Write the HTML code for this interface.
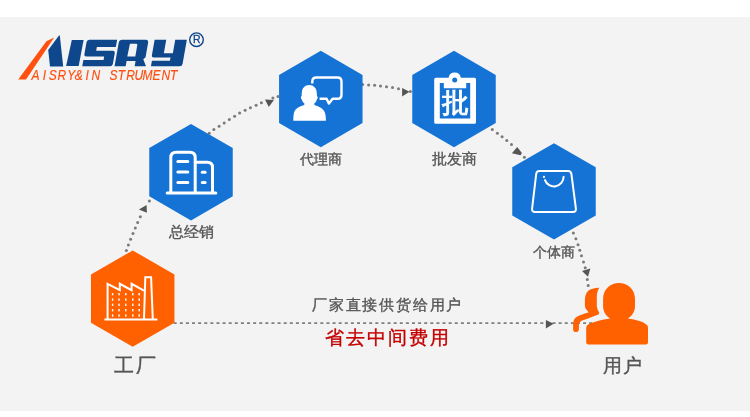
<!DOCTYPE html>
<html><head><meta charset="utf-8">
<style>
html,body{margin:0;padding:0;width:750px;height:417px;overflow:hidden;background:#fff;}
#bg{position:absolute;left:0;top:17px;width:750px;height:394px;background:#f3f3f3;}
svg{position:absolute;left:0;top:0;will-change:transform;}
.t{position:absolute;will-change:transform;-webkit-text-stroke:0.35px currentColor;font-family:"Liberation Sans",sans-serif;line-height:1;white-space:nowrap;color:#555;}
</style></head><body>
<div id="bg"></div>
<svg width="750" height="417" viewBox="0 0 750 417">
  <!-- dotted curve -->
  <g fill="#7a7a7a">
    <circle cx="126.4" cy="250.4" r="1.5"/><circle cx="128.4" cy="244.9" r="1.5"/><circle cx="130.6" cy="239.2" r="1.5"/>
    <circle cx="133" cy="233.6" r="1.5"/><circle cx="135.3" cy="228.1" r="1.5"/><circle cx="137.7" cy="222.4" r="1.5"/>
    <circle cx="140.3" cy="216.8" r="1.5"/><circle cx="149.4" cy="200.9" r="1.5"/>
    <circle cx="209.2" cy="133.2" r="1.5"/><circle cx="213.9" cy="129.6" r="1.5"/><circle cx="219.1" cy="126.2" r="1.5"/>
    <circle cx="224.2" cy="122.9" r="1.5"/><circle cx="229.3" cy="119.6" r="1.5"/><circle cx="234.6" cy="116.3" r="1.5"/>
    <circle cx="239.6" cy="113.1" r="1.5"/><circle cx="245.1" cy="110.3" r="1.5"/><circle cx="250.4" cy="107.7" r="1.5"/>
    <circle cx="256.1" cy="105.2" r="1.5"/><circle cx="261.4" cy="102.8" r="1.5"/><circle cx="272.9" cy="98" r="1.5"/>
    <circle cx="278" cy="96.4" r="1.5"/>
    <circle cx="362.6" cy="84.6" r="1.5"/><circle cx="368.6" cy="84.9" r="1.5"/><circle cx="374.6" cy="85.3" r="1.5"/>
    <circle cx="380.5" cy="85.9" r="1.5"/><circle cx="386.5" cy="86.7" r="1.5"/><circle cx="392.5" cy="87.6" r="1.5"/>
    <circle cx="398.5" cy="88.7" r="1.5"/><circle cx="410.4" cy="91.4" r="1.5"/>
    <circle cx="492.3" cy="129.5" r="1.5"/><circle cx="497.4" cy="133.2" r="1.5"/><circle cx="502.1" cy="136.7" r="1.5"/>
    <circle cx="506.8" cy="140.5" r="1.5"/><circle cx="511.5" cy="144.6" r="1.5"/><circle cx="524.4" cy="157.3" r="1.5"/>
    <circle cx="573.4" cy="233.1" r="1.5"/><circle cx="575.9" cy="238.8" r="1.5"/><circle cx="578" cy="244.7" r="1.5"/>
    <circle cx="579.8" cy="250.2" r="1.5"/><circle cx="581.5" cy="255.7" r="1.5"/><circle cx="583.5" cy="262" r="1.5"/>
    <circle cx="585.2" cy="267.8" r="1.5"/><circle cx="587.3" cy="279.6" r="1.5"/><circle cx="588.2" cy="285.4" r="1.5"/>
  </g>
  <!-- dashed straight line -->
  <line x1="173.7" y1="323.2" x2="593" y2="323.2" stroke="#7f7f7f" stroke-width="1.7" stroke-dasharray="3 3.11"/>
  <!-- arrows -->
  <g fill="#555">
    <polygon points="138.9,209.5 146.6,204.9 146.9,212.8"/>
    <polygon points="265,99.4 273.9,99.9 268.8,107"/>
    <polygon points="402.1,88 402.1,96.6 409.5,91.8"/>
    <polygon points="517.2,147 511.9,153.3 520.6,155.3 521.9,152.9"/>
    <polygon points="582,270.9 590.3,268.5 588,276.7"/>
    <polygon points="545.9,320 545.9,328.6 553.6,323.8"/>
  </g>
  <!-- hexagons -->
  <polygon fill="#ff6000" points="132.70,250.40 174.44,274.50 174.44,322.70 132.70,346.80 90.96,322.70 90.96,274.50"/>
  <polygon fill="#1473d5" points="191.00,124.00 232.74,148.10 232.74,196.30 191.00,220.40 149.26,196.30 149.26,148.10"/>
  <polygon fill="#1473d5" points="320.80,50.80 362.54,74.90 362.54,123.10 320.80,147.20 279.06,123.10 279.06,74.90"/>
  <polygon fill="#1473d5" points="454.00,50.80 495.74,74.90 495.74,123.10 454.00,147.20 412.26,123.10 412.26,74.90"/>
  <polygon fill="#1473d5" points="554.00,143.20 595.74,167.30 595.74,215.50 554.00,239.60 512.26,215.50 512.26,167.30"/>

  <!-- factory icon -->
  <g fill="none" stroke="#fff" stroke-width="2">
    <line x1="104.4" y1="319.5" x2="157.4" y2="319.5"/>
    <path d="M107.6,319.5 V283.8 L119.8,290.2 V283.8 L131.6,290.2 V283.8 L144,290.6" stroke-linejoin="miter"/>
    <path d="M144,319.5 L145.3,277.3 H151.1 L152.8,319.5" stroke-linejoin="miter"/>
  </g>
  <g fill="#fff">
    <rect x="111.9" y="293" width="1.4" height="2.4"/><rect x="118.3" y="293" width="1.4" height="2.4"/><rect x="125.1" y="293" width="1.4" height="2.4"/><rect x="132.1" y="293" width="1.4" height="2.4"/><rect x="138.5" y="293" width="1.4" height="2.4"/>
    <rect x="111.9" y="298.4" width="1.4" height="2.4"/><rect x="118.3" y="298.4" width="1.4" height="2.4"/><rect x="125.1" y="298.4" width="1.4" height="2.4"/><rect x="132.1" y="298.4" width="1.4" height="2.4"/><rect x="138.5" y="298.4" width="1.4" height="2.4"/>
    <rect x="111.9" y="303.6" width="1.4" height="2.4"/><rect x="118.3" y="303.6" width="1.4" height="2.4"/><rect x="125.1" y="303.6" width="1.4" height="2.4"/><rect x="132.1" y="303.6" width="1.4" height="2.4"/><rect x="138.5" y="303.6" width="1.4" height="2.4"/>
    <rect x="111.9" y="309" width="1.4" height="2.4"/><rect x="118.3" y="309" width="1.4" height="2.4"/><rect x="125.1" y="309" width="1.4" height="2.4"/><rect x="132.1" y="309" width="1.4" height="2.4"/><rect x="138.5" y="309" width="1.4" height="2.4"/>
    <rect x="111.9" y="314.3" width="1.4" height="2.4"/><rect x="118.3" y="314.3" width="1.4" height="2.4"/><rect x="125.1" y="314.3" width="1.4" height="2.4"/><rect x="132.1" y="314.3" width="1.4" height="2.4"/><rect x="138.5" y="314.3" width="1.4" height="2.4"/>
  </g>
  <!-- building icon -->
  <g fill="none" stroke="#fff" stroke-width="3" stroke-linecap="round">
    <line x1="167.2" y1="192.9" x2="215.8" y2="192.9"/>
    <path d="M170.8,192 V157.6 Q170.8,152.3 176.1,152.3 H189.9 Q195.2,152.3 195.2,157.6 V192"/>
    <path d="M195.2,162.3 H207.3 Q212.5,162.3 212.5,167.5 V192"/>
    <line x1="177.9" y1="161.6" x2="187.8" y2="161.6"/>
    <line x1="177.9" y1="172.1" x2="187.8" y2="172.1"/>
    <line x1="177.9" y1="182.6" x2="187.8" y2="182.6"/>
    <line x1="202.3" y1="172.2" x2="205.1" y2="172.2"/>
    <line x1="202.3" y1="182.4" x2="205.1" y2="182.4"/>
  </g>
  <!-- agent icon -->
  <path fill="none" stroke="#fff" stroke-width="2.4" stroke-linejoin="round" d="M312.3,83.4 V81.5 Q312.3,77.5 316.3,77.5 H337.5 Q341.5,77.5 341.5,81.5 V94.8 Q341.5,98.8 337.5,98.8 H332.6 L328.9,103.6 L326.6,98.8 H319.6"/>
  <path fill="#fff" d="M309.2,85 C305,85 301.8,88 301.8,93 L301.6,96 C300.6,96.5 300.6,98.8 301.8,99.5 C302.3,101.5 303.5,103 304.5,103.6 L304.2,105 C299,106.5 295.5,108.5 294.4,111.5 C293.5,114 293.3,117.5 293.3,120.8 L325.9,120.8 C325.9,117.5 325.7,114 324.4,111.5 C323,108.5 319.5,106.5 314.4,105 L314.2,103.6 C315.2,103 316.4,101.5 316.8,99.5 C318,98.8 318,96.5 317,96 L316.8,93 C316.8,88 313.4,85 309.2,85 Z"/>
  <!-- clipboard -->
  <path fill="#fff" fill-rule="evenodd" d="M435.8,77.7 H448.6 A6.2,6.2 0 0 1 460.8,77.7 H474.5 Q476,77.7 476,79.2 V122.2 Q476,123.7 474.5,123.7 H435.8 Q434.2,123.7 434.2,122.2 V79.2 Q434.2,77.7 435.8,77.7 Z M439.8,83 V118.5 H470.2 V83 H466.2 V88.2 H443.8 V83 Z M454.7,80 m-2.5,0 a2.5,2.5 0 1 0 5,0 a2.5,2.5 0 1 0 -5,0 Z"/>
  <!-- bag -->
  <g fill="none" stroke="#fff" stroke-width="2" stroke-linecap="round">
    <path d="M539.2,171 H568 Q571,171 571.4,174 L575.9,208.7 Q576.3,212 573,212 H535 Q531.7,212 532.1,208.7 L536.2,174 Q536.6,171 539.2,171 Z"/>
    <path d="M544.98,180.08 A9.6,9.6 0 0 0 563.6,176.8"/>
  </g>
  <circle cx="544" cy="176.9" r="1.1" fill="#fff"/>
  <!-- users icon -->
  <g fill="#ff6000">
    <path d="M603.1,299 C603.1,289.5 610,283 619,283 C628,283 635,289.5 635,299 L635,306 C635,312 631.5,316.5 627.8,318.4 C636,319.6 644,321.6 647,325 C647.8,326 648,327 648,328.5 V342.6 Q648,344.4 646.2,344.4 H588 Q586.2,344.4 586.2,342.6 V328.5 C586.2,326 587.2,324.6 589.6,323.8 C594.5,321.6 602,319.4 610.2,318.4 C606.5,316.5 603.1,312 603.1,306 Z"/>
    <path d="M599.3,287.7 C594,288 590.5,288.8 588.3,290.8 C585.6,293.2 584.9,297 584.9,301 L584.9,304.5 C584.9,307 585.4,308.5 586.4,309.6 C587.2,310.6 588.2,311.6 588.5,312.6 C585,313.5 579,315.2 575.8,317.6 C573.6,319.4 573.1,322 573.1,325 L573.1,329.2 C573.1,331 574.2,332.1 575.9,332.1 C577.6,332.1 578.9,331 578.9,329.2 L578.9,325.5 C578.9,322.5 580.5,321 583.7,320 C588.5,318.3 594,316 598.6,314.5 L599.3,312.6 C597.5,310 596.8,307.5 596.8,304.5 L596.8,297 C596.8,293.5 597.5,290.5 599.3,287.7 Z"/>
  </g>

  <!-- logo -->
  <polygon fill="#ff5010" points="18.2,79.6 26,79.6 54.2,37.6 46.4,41.2"/>
  <g fill="#0f478c">
    <polygon points="59,35.6 59.8,35.6 63.2,66.6 50,66.6 48.2,50"/>
    <polygon points="71.8,40.1 83.6,40.1 78.7,65.9 66.1,65.9"/>
    <g transform="translate(11.64,0) skewX(-10)">
      <path d="M84.8,39.7 H112.5 V47 H93.5 V50.8 H110 Q112.5,50.8 112.5,53.3 V63.8 Q112.5,66.3 110,66.3 H82.3 V59.9 H102.5 V56.5 H84.8 Q82.3,56.5 82.3,54 V42.2 Q82.3,39.7 84.8,39.7 Z"/>
      <path fill-rule="evenodd" d="M117.6,39.7 H141 Q144,39.7 144,42.9 V57.2 L142.1,59.3 L146,66.3 H134.7 V61 H125.7 V66.3 H114.6 V42.9 Q114.6,39.7 117.6,39.7 Z M126,43.8 H132.2 Q133.6,43.8 133.6,45.2 V56.4 H125.6 Z"/>
      <path d="M150,39.7 H161.6 V53.2 H170.6 V39.7 H182.2 V63.8 Q182.2,66.3 179.7,66.3 H151 V60.8 H169 V57.5 H152.5 Q150,57.5 150,55 Z"/>
    </g>
    <circle cx="196.5" cy="39.7" r="6.8" fill="none" stroke="#0f478c" stroke-width="1.4"/>
    <text x="192.9" y="43.4" stroke="#0f478c" stroke-width="0.3" style="font-family:'Liberation Sans';font-size:10.5px">R</text>
  </g>
  <g fill="#ff4d0d" stroke="#ff4d0d" stroke-width="0.15" style="font-family:'Liberation Sans';font-style:italic;font-size:14px">
    <text transform="translate(34.90,0) scale(0.86,1) translate(-34.90,0)" x="31.05" y="79.9">A</text>
    <text transform="translate(44.53,0) scale(0.86,1) translate(-44.53,0)" x="42.43" y="79.9">I</text>
    <text transform="translate(52.86,0) scale(0.86,1) translate(-52.86,0)" x="48.17" y="79.9">S</text>
    <text transform="translate(61.89,0) scale(0.86,1) translate(-61.89,0)" x="56.92" y="79.9">R</text>
    <text transform="translate(72.12,0) scale(0.86,1) translate(-72.12,0)" x="66.38" y="79.9">Y</text>
    <text transform="translate(78.55,0) scale(0.86,1) translate(-78.55,0)" x="74.21" y="79.9">&amp;</text>
    <text transform="translate(87.28,0) scale(0.86,1) translate(-87.28,0)" x="85.18" y="79.9">I</text>
    <text transform="translate(96.01,0) scale(0.86,1) translate(-96.01,0)" x="90.83" y="79.9">N</text>
    <text transform="translate(113.47,0) scale(0.86,1) translate(-113.47,0)" x="108.78" y="79.9">S</text>
    <text transform="translate(122.20,0) scale(0.86,1) translate(-122.20,0)" x="116.95" y="79.9">T</text>
    <text transform="translate(130.63,0) scale(0.86,1) translate(-130.63,0)" x="125.66" y="79.9">R</text>
    <text transform="translate(139.16,0) scale(0.86,1) translate(-139.16,0)" x="133.63" y="79.9">U</text>
    <text transform="translate(147.59,0) scale(0.86,1) translate(-147.59,0)" x="141.64" y="79.9">M</text>
    <text transform="translate(156.82,0) scale(0.86,1) translate(-156.82,0)" x="151.92" y="79.9">E</text>
    <text transform="translate(165.85,0) scale(0.86,1) translate(-165.85,0)" x="160.67" y="79.9">N</text>
    <text transform="translate(174.58,0) scale(0.86,1) translate(-174.58,0)" x="169.33" y="79.9">T</text>
  </g>
</svg>

<div class="t" style="left:114px;top:355.1px;font-size:20px;letter-spacing:1.6px;">工厂</div>
<div class="t" style="left:168.8px;top:224.8px;font-size:14.5px;">总经销</div>
<div class="t" style="left:299.6px;top:151.9px;font-size:14.3px;">代理商</div>
<div class="t" style="left:431.9px;top:151.9px;font-size:14.5px;">批发商</div>
<div class="t" style="left:533.1px;top:244.9px;font-size:14.4px;">个体商</div>
<div class="t" style="left:602.8px;top:355.8px;font-size:19px;letter-spacing:1.4px;">用户</div>
<div class="t" style="left:312.45px;top:297.3px;font-size:15px;letter-spacing:1.8px;">厂家直接供货给用户</div>
<div class="t" style="left:325.3px;top:327.5px;font-size:19px;letter-spacing:2px;color:#c40000;">省去中间费用</div>
<div class="t" style="left:442.1px;top:90.1px;font-size:26.7px;-webkit-text-stroke:0.9px #fff;color:#fff;">批</div>
</body></html>
